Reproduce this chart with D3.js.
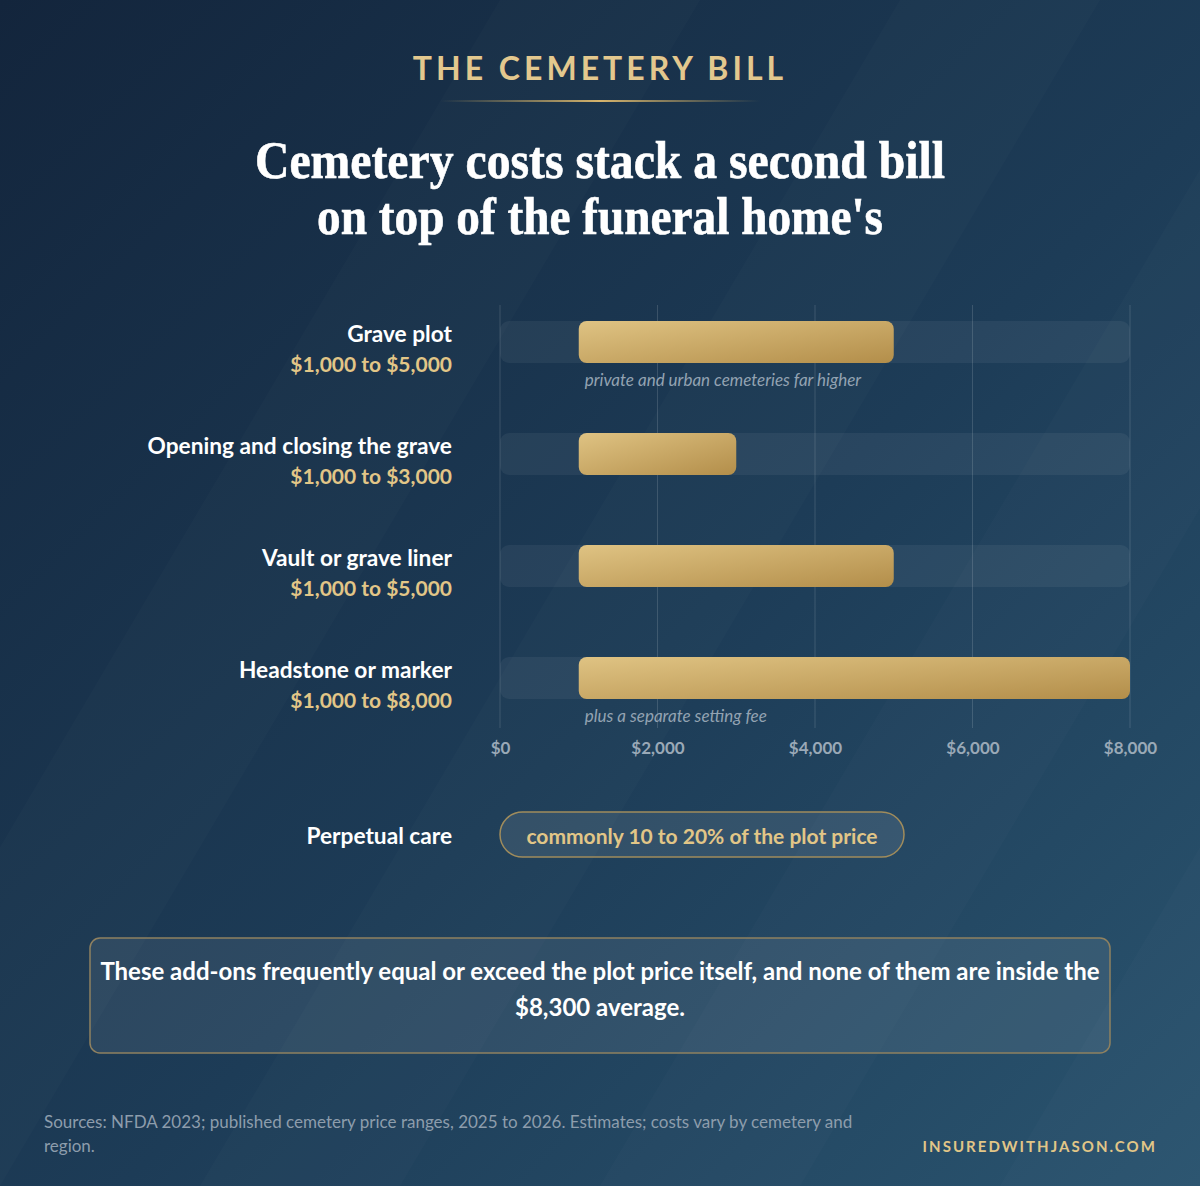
<!DOCTYPE html>
<html><head><meta charset="utf-8">
<script src="https://cdn.jsdelivr.net/npm/d3@7"></script>
<style>html,body{margin:0;padding:0;background:#172d45;}svg{display:block;}</style>
</head><body>
<script>
const categories = ["Grave plot","Opening and closing the grave","Vault or grave liner","Headstone or marker"];
const lows = [1000,1000,1000,1000];
const highs = [5000,3000,5000,8000];
const rangeLabels = ["$1,000 to $5,000","$1,000 to $3,000","$1,000 to $5,000","$1,000 to $8,000"];
const notes = ["private and urban cemeteries far higher","","","plus a separate setting fee"];
const tickValues = [0,2000,4000,6000,8000];
const domainMax = 8000;

const W=1200,H=1186;
const svg=d3.select("body").append("svg").attr("width",W).attr("height",H);
const defs=svg.append("defs");
const bg=defs.append("linearGradient").attr("id","bg").attr("x1","0").attr("y1","0").attr("x2","1").attr("y2","1");
bg.append("stop").attr("offset","0%").attr("stop-color","#13253c");
bg.append("stop").attr("offset","55%").attr("stop-color","#1d3c57");
bg.append("stop").attr("offset","100%").attr("stop-color","#2a546f");
const gold=defs.append("linearGradient").attr("id","gold").attr("x1","0").attr("y1","0").attr("x2","1").attr("y2","1");
gold.append("stop").attr("offset","0%").attr("stop-color","#dfc383");
gold.append("stop").attr("offset","100%").attr("stop-color","#b38e4a");
const rule=defs.append("linearGradient").attr("id","rule");
rule.append("stop").attr("offset","0%").attr("stop-color","#c9a85f").attr("stop-opacity",0);
rule.append("stop").attr("offset","50%").attr("stop-color","#d6b46c").attr("stop-opacity",1);
rule.append("stop").attr("offset","100%").attr("stop-color","#c9a85f").attr("stop-opacity",0);

svg.append("rect").attr("width",W).attr("height",H).attr("fill","url(#bg)");
// subtle diagonal stripes
const stripes=svg.append("g").attr("opacity",0.013);
[-200,200,600,1000].forEach(x0=>{
  stripes.append("path").attr("d",`M${x0},${H} L${x0+700},0 L${x0+900},0 L${x0+200},${H}Z`).attr("fill","#ffffff");
});

// header
svg.append("text").attr("x",600).attr("y",80).attr("text-anchor","middle")
  .attr("font-family","Lato").attr("font-weight",700).attr("font-size",32).attr("letter-spacing",4)
  .attr("fill","#e3c88e").text("THE CEMETERY BILL");
svg.append("rect").attr("x",440).attr("y",100).attr("width",320).attr("height",2).attr("fill","url(#rule)");

const titleLines=[["Cemetery costs stack a second bill",178,690],["on top of the funeral home's",234,566]];
titleLines.forEach(([t,yy,w])=>{
  svg.append("text").attr("x",600).attr("y",yy).attr("text-anchor","middle")
    .attr("font-family","Liberation Serif, serif").attr("font-weight",700).attr("font-size",52)
    .attr("textLength",w).attr("lengthAdjust","spacingAndGlyphs")
    .attr("stroke","#ffffff").attr("stroke-width",0.6)
    .attr("fill","#ffffff").text(t);
});

// chart
const x=d3.scaleLinear().domain([0,domainMax]).range([500,1130]);
const y=d3.scaleBand().domain(categories).range([286,734]).paddingInner(0.625).paddingOuter(0.3125);
const bh=42;
svg.append("g").selectAll("line").data(tickValues).join("line")
  .attr("x1",d=>x(d)).attr("x2",d=>x(d)).attr("y1",305).attr("y2",728)
  .attr("stroke","#ffffff").attr("stroke-opacity",0.14).attr("stroke-width",1);

const rows=svg.append("g").selectAll("g").data(categories).join("g");
const cy=d=>y(d)+y.bandwidth()/2;
rows.append("rect").attr("x",x(0)).attr("width",x(domainMax)-x(0)).attr("y",d=>cy(d)-bh/2).attr("height",bh)
  .attr("rx",9).attr("fill","#ffffff").attr("fill-opacity",0.055);
rows.append("rect").attr("x",(d,i)=>x(lows[i])).attr("width",(d,i)=>x(highs[i])-x(lows[i]))
  .attr("y",d=>cy(d)-bh/2).attr("height",bh).attr("rx",8).attr("fill","url(#gold)");
rows.append("text").attr("x",452).attr("y",d=>cy(d)).attr("text-anchor","end")
  .attr("font-family","Lato").attr("font-weight",700).attr("font-size",22.7).attr("fill","#ffffff").text(d=>d);
rows.append("text").attr("x",452).attr("y",d=>cy(d)+30).attr("text-anchor","end")
  .attr("font-family","Lato").attr("font-weight",700).attr("font-size",21).attr("fill","#e2c687").text((d,i)=>rangeLabels[i]);
rows.append("text").attr("x",(d,i)=>x(lows[i])+6).attr("y",d=>cy(d)+44).attr("font-family","Lato").attr("font-style","italic")
  .attr("font-size",17).attr("fill","#93a3b2").text((d,i)=>notes[i]);

// axis
const axis=svg.append("g").attr("transform","translate(0,728)")
  .call(d3.axisBottom(x).tickValues(tickValues).tickSize(0).tickPadding(14).tickFormat(d=>"$"+d3.format(",")(d)));
axis.select(".domain").remove();
axis.selectAll("text").attr("font-family","Lato").attr("font-weight",700).attr("font-size",17).attr("fill","#9aa9b7");

// perpetual care
svg.append("text").attr("x",452).attr("y",844).attr("text-anchor","end").attr("font-family","Lato").attr("font-weight",700)
  .attr("font-size",22.7).attr("fill","#ffffff").text("Perpetual care");
svg.append("rect").attr("x",500).attr("y",812).attr("width",404).attr("height",45).attr("rx",22.5)
  .attr("fill","#ffffff").attr("fill-opacity",0.09).attr("stroke","#a08c5c").attr("stroke-width",1.5);
svg.append("text").attr("x",702).attr("y",844).attr("text-anchor","middle").attr("font-family","Lato").attr("font-weight",700)
  .attr("font-size",21).attr("fill","#e2c687").text("commonly 10 to 20% of the plot price");

// note box
svg.append("rect").attr("x",90).attr("y",938).attr("width",1020).attr("height",115).attr("rx",10)
  .attr("fill","#ffffff").attr("fill-opacity",0.08).attr("stroke","#8f8160").attr("stroke-width",1.5);
const noteLines=[["These add-ons frequently equal or exceed the plot price itself, and none of them are inside the",980],["$8,300 average.",1016]];
noteLines.forEach(([t,yy])=>svg.append("text").attr("x",600).attr("y",yy).attr("text-anchor","middle").attr("font-family","Lato")
  .attr("font-weight",700).attr("font-size",24).attr("fill","#ffffff").text(t));

// footer
[["Sources: NFDA 2023; published cemetery price ranges, 2025 to 2026. Estimates; costs vary by cemetery and",1128],["region.",1152]]
  .forEach(([t,yy])=>svg.append("text").attr("x",44).attr("y",yy).attr("font-family","Lato").attr("font-size",17)
  .attr("fill","#8d9dac").text(t));
svg.append("text").attr("x",1157).attr("y",1152).attr("text-anchor","end").attr("font-family","Lato").attr("font-weight",700)
  .attr("font-size",15).attr("letter-spacing",2.05).attr("fill","#e2c687").text("INSUREDWITHJASON.COM");
</script>
</body></html>
